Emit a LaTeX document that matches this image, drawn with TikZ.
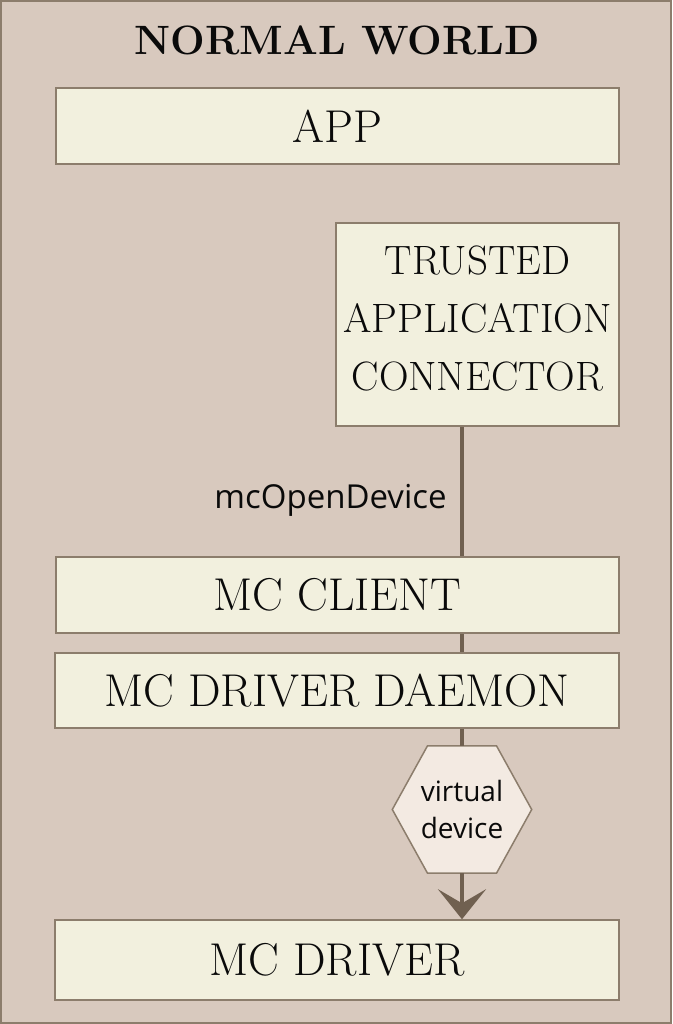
\documentclass[tikz,border=0pt]{standalone}
\usepackage{fontspec}
\newfontfamily\osans{Open Sans}
\usetikzlibrary{arrows.meta}
\definecolor{worldbg}{RGB}{216,201,190}
\definecolor{worldline}{RGB}{140,125,108}
\definecolor{boxfill}{RGB}{242,240,222}
\definecolor{connc}{RGB}{112,96,80}
\definecolor{hexfill}{RGB}{243,234,226}
\definecolor{txt}{RGB}{10,10,10}
\tikzset{
  layerbox/.style={draw=worldline, line width=1.5pt, fill=boxfill, text=txt, inner sep=0pt,
    font=\fontsize{46}{52}\selectfont},
  conn/.style={draw=connc, line width=4pt},
  lbl/.style={text=txt, font=\osans\fontsize{28}{37}\selectfont, align=center, inner sep=0pt},
}
\begin{document}
\begin{tikzpicture}[x=1pt,y=-1pt]
\useasboundingbox (0,0) rectangle (672,1024);
\draw[fill=worldbg, draw=worldline, line width=2pt] (1,1) rectangle (671,1023);
\node[text=txt, font=\bfseries\fontsize{41}{46}\selectfont] (title) at (337,40) {NORMAL WORLD};
\node[layerbox, minimum width=563pt, minimum height=76pt] (app) at (337.5,126) {APP};
\node[layerbox, minimum width=283pt, minimum height=203pt] (ta) at (477.5,324.5) {};
\node[text=txt, inner sep=0pt, align=center, font=\fontsize{41}{58}\selectfont]
  (tatext) at ([yshift=6pt]ta.center) {TRUSTED\\APPLICATION\\CONNECTOR};
\node[layerbox, minimum width=563pt, minimum height=76pt] (client) at (337.5,595) {MC CLIENT};
\node[layerbox, minimum width=564pt, minimum height=75pt] (daemon) at (337,690.5) {MC DRIVER DAEMON};
\node[layerbox, minimum width=564pt, minimum height=80pt] (driver) at (337,960) {MC DRIVER};
\node[minimum width=139pt, minimum height=127pt, inner sep=0pt] (hex) at (462,809.5) {};
\draw[draw=worldline, line width=1.5pt, fill=hexfill]
  ([xshift=-34.5pt]hex.north) -- ([xshift=34.5pt]hex.north) -- (hex.east)
  -- ([xshift=34.5pt]hex.south) -- ([xshift=-34.5pt]hex.south) -- (hex.west) -- cycle;
\node[lbl] (vd) at (hex.center) {virtual\\device};
\node[lbl, font=\osans\fontsize{33}{40}\selectfont] (open) at (330.5,500) {mcOpenDevice};
\draw[conn] (ta.south -| hex.north) -- (client.north -| hex.north);
\draw[conn] (client.south -| hex.north) -- (daemon.north -| hex.north);
\draw[conn] (daemon.south -| hex.north) -- (hex.north);
\draw[conn, -{Stealth[length=30pt, width=48pt, inset=14pt]}] (hex.south) -- (driver.north -| hex.south);
\end{tikzpicture}
\end{document}
